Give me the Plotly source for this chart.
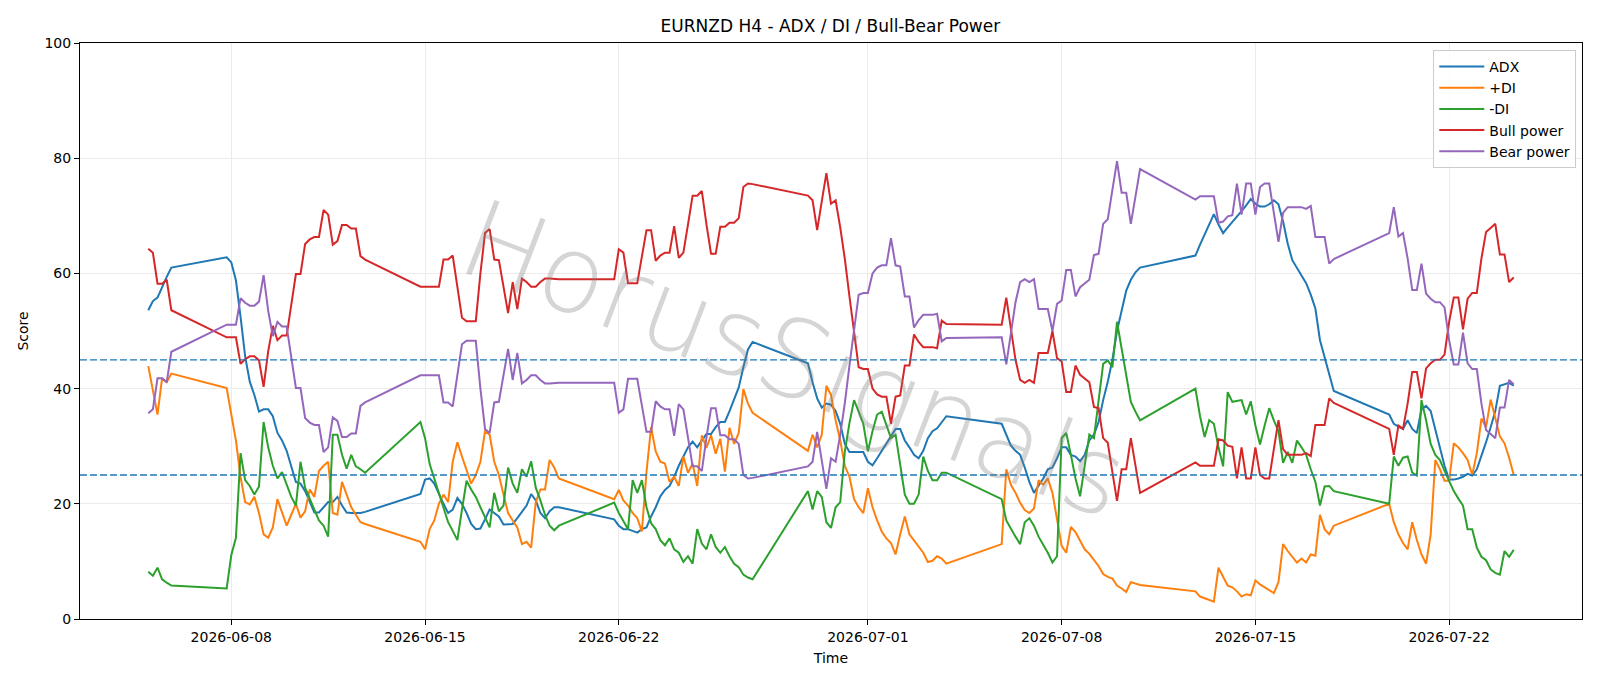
import pandas as pd
import plotly.graph_objects as go

# ---------------- data ----------------
# H4 bars come in runs (market sessions); each run: start time and number of 4h bars
run_starts = ["2026-06-05 00:00", "2026-06-07 20:00", "2026-06-14 20:00", "2026-06-21 20:00",
              "2026-06-28 20:00", "2026-07-05 20:00", "2026-07-12 20:00", "2026-07-19 20:00"]
run_lengths = [6, 31, 31, 31, 31, 31, 31, 28]

adx = [
    53.6, 55.2, 55.8, 57.7, 59.4, 61.0,
    62.8, 61.9, 58.8, 52.5, 45.6, 41.2, 38.9, 36.0, 36.4, 36.4, 35.2, 32.3, 31.0, 29.2, 26.3, 23.8,
    23.5, 22.2, 20.4, 18.5, 18.5, 19.4, 20.3, 20.3, 21.2, 19.7, 18.5, 18.4, 18.4, 18.4, 18.6,
    21.7, 24.2, 24.4, 23.5, 21.6, 20.0, 18.4, 19.0, 21.0, 20.0, 18.4, 16.5, 15.6, 15.7, 17.3, 19.0,
    18.4, 17.8, 16.4, 16.5, 16.5, 17.5, 18.7, 19.7, 21.7, 20.6, 18.4, 17.5, 18.7, 19.4, 19.4,
    17.3, 16.2, 15.6, 15.6, 15.3, 15.0, 15.6, 15.9, 17.8, 19.4, 21.3, 22.4, 23.1, 24.7, 26.6, 28.2,
    29.8, 30.8, 29.8, 31.0, 32.1, 32.1, 33.3, 34.2, 34.2, 36.1, 38.0, 40.2, 43.7, 46.8, 48.1,
    44.4, 41.1, 38.3, 36.7, 37.4, 37.2, 36.1, 33.9, 30.4, 29.0, 29.0, 29.0, 29.0, 27.3, 26.7, 27.9,
    29.2, 30.4, 31.7, 33.0, 33.0, 31.0, 29.8, 28.5, 27.9, 29.2, 31.4, 32.6, 33.1, 34.2, 35.2,
    33.9, 32.0, 30.1, 29.2, 28.5, 26.3, 23.8, 21.9, 23.1, 24.4, 26.0, 26.3, 27.9, 29.8, 29.8, 28.5,
    28.2, 27.4, 28.5, 31.0, 32.0, 34.2, 38.0, 41.2, 45.0, 50.0, 53.5, 57.0, 58.9, 60.2, 61.0,
    63.1, 65.0, 66.8, 68.5, 70.3, 68.5, 67.0, 68.0, 68.9, 69.9, 70.8, 71.8, 72.9, 72.1, 71.6, 71.6,
    72.0, 72.7, 72.0, 69.0, 65.2, 62.3, 61.0, 59.5, 58.3, 56.3, 53.9, 48.4, 45.6, 42.7, 39.6,
    35.5, 33.9, 33.4, 33.0, 34.5, 33.0, 32.3, 36.4, 37.0, 36.1, 32.9, 29.8, 26.6, 24.2, 24.2, 24.4,
    24.7, 25.2, 24.9, 26.0, 28.2, 30.7, 33.3, 36.1, 40.5, 40.8, 41.0, 40.5,
]

plus_di = [
    43.9, 39.9, 35.5, 41.8, 41.1, 42.6,
    40.1, 35.5, 31.0, 24.7, 20.3, 19.9, 21.2, 18.4, 14.7, 14.1, 15.9, 20.8, 18.4, 16.2, 18.1, 20.0,
    17.6, 18.7, 22.5, 21.2, 25.7, 26.6, 27.3, 18.4, 18.1, 23.8, 21.6, 19.4, 18.1, 16.8, 16.5,
    13.4, 12.1, 15.6, 17.1, 20.0, 21.6, 20.3, 27.3, 30.7, 28.2, 25.7, 23.5, 25.0, 27.3, 32.6, 32.0,
    27.3, 25.0, 21.6, 18.4, 17.1, 15.9, 13.0, 13.4, 12.4, 20.3, 22.5, 22.5, 27.6, 26.3, 24.4,
    20.8, 22.4, 20.6, 19.7, 18.4, 17.5, 15.2, 25.5, 33.3, 29.1, 27.3, 27.0, 23.8, 24.7, 23.1, 28.2,
    25.4, 27.0, 23.1, 31.9, 29.7, 31.9, 28.7, 31.3, 25.6, 33.2, 30.4, 32.3, 39.9, 37.4, 35.8,
    29.2, 32.0, 29.8, 32.0, 40.5, 38.9, 34.5, 31.0, 26.6, 24.7, 20.8, 19.4, 18.4, 22.7, 19.4, 17.1,
    15.2, 14.0, 13.2, 11.2, 14.7, 17.8, 14.7, 13.7, 12.7, 11.5, 9.9, 10.1, 10.9, 10.5, 9.6,
    13.0, 26.0, 23.3, 21.9, 20.2, 18.9, 18.4, 19.2, 24.1, 23.3, 24.4, 21.9, 17.5, 12.7, 11.5, 16.0,
    15.1, 13.7, 12.1, 11.3, 10.2, 9.2, 7.8, 7.3, 7.0, 5.8, 5.3, 4.7, 6.4, 6.1, 5.9,
    4.8, 3.9, 3.6, 3.3, 3.0, 8.9, 7.4, 5.8, 5.5, 4.8, 3.9, 4.3, 4.1, 6.7, 6.0, 5.5,
    5.0, 4.5, 6.4, 13.0, 11.8, 10.8, 9.8, 10.5, 9.8, 11.2, 11.0, 18.1, 15.6, 14.7, 16.2,
    20.0, 16.8, 14.7, 13.2, 12.1, 16.8, 13.7, 11.2, 9.6, 14.7, 27.6, 26.0, 24.0, 24.0, 30.5, 29.8,
    28.8, 27.6, 25.0, 28.8, 34.8, 33.3, 38.1, 34.8, 31.7, 30.5, 28.0, 25.0,
]

minus_di = [
    8.2, 7.5, 8.9, 6.9, 6.3, 5.8,
    5.3, 11.1, 14.1, 28.8, 24.1, 23.1, 21.6, 23.0, 34.2, 29.8, 26.6, 24.4, 25.5, 23.5, 21.2, 19.7,
    27.3, 22.8, 20.9, 19.0, 17.1, 16.2, 14.3, 32.0, 32.0, 28.5, 26.1, 28.5, 26.5, 26.0, 25.4,
    34.2, 31.4, 26.9, 24.4, 21.9, 19.4, 16.8, 15.3, 13.7, 19.0, 24.0, 22.5, 21.2, 19.4, 17.5, 15.9,
    21.9, 18.7, 19.7, 26.3, 23.5, 21.9, 26.0, 24.7, 27.4, 22.8, 20.6, 18.1, 16.2, 15.4, 16.2,
    20.2, 18.4, 17.1, 15.6, 24.1, 21.9, 24.1, 19.4, 16.6, 15.6, 13.7, 12.8, 14.0, 12.1, 11.5, 9.9,
    10.9, 9.6, 15.6, 13.1, 12.1, 14.7, 12.5, 11.5, 12.5, 10.9, 9.6, 9.0, 7.7, 7.2, 6.9,
    22.2, 19.0, 22.2, 21.2, 16.8, 15.8, 19.4, 20.3, 29.1, 34.0, 38.0, 36.0, 33.9, 29.1, 32.6, 35.5,
    36.0, 33.7, 31.4, 32.0, 27.0, 21.6, 20.0, 20.0, 21.6, 28.2, 25.7, 24.1, 24.1, 25.4, 25.4,
    20.8, 17.1, 15.6, 14.3, 13.0, 16.8, 17.5, 16.2, 14.3, 13.0, 11.5, 9.8, 10.9, 31.4, 32.3, 28.5,
    24.4, 21.3, 26.3, 32.0, 31.4, 37.4, 44.3, 44.9, 43.7, 51.6, 47.2, 42.7, 37.7, 36.0, 34.5,
    40.0, 35.2, 31.6, 34.5, 33.9, 29.8, 26.5, 39.4, 37.7, 37.8, 38.0, 35.5, 37.8, 33.6, 30.3, 33.6,
    36.6, 34.5, 32.6, 27.1, 29.0, 27.1, 31.0, 29.8, 28.5, 26.0, 23.8, 19.7, 23.0, 23.1, 22.2,
    20.0, 28.2, 26.6, 28.0, 28.2, 25.4, 24.9, 38.0, 34.5, 30.4, 28.5, 27.6, 25.7, 23.8, 22.2, 20.9,
    19.7, 15.6, 15.6, 12.4, 10.8, 10.2, 8.6, 8.0, 7.7, 11.8, 10.8, 12.0,
]

bull_power = [
    64.3, 63.6, 58.2, 58.2, 58.9, 53.6,
    48.9, 48.9, 48.9, 44.3, 45.1, 45.6, 45.6, 44.9, 40.3, 46.5, 50.9, 48.4, 49.2, 49.2, 54.6, 59.9,
    59.9, 65.1, 65.9, 66.3, 66.3, 71.0, 70.2, 65.0, 65.6, 68.4, 68.4, 67.8, 67.8, 63.0, 62.4,
    57.7, 57.7, 57.7, 57.7, 57.7, 62.4, 62.4, 63.1, 57.7, 52.3, 51.7, 51.7, 51.7, 60.0, 67.0, 67.7,
    62.4, 62.3, 57.7, 53.1, 58.5, 53.8, 59.1, 58.5, 57.7, 57.7, 58.5, 59.1, 59.1, 59.0, 59.0,
    59.0, 64.2, 63.6, 58.3, 58.3, 58.3, 62.9, 67.5, 67.5, 62.2, 63.1, 63.6, 63.6, 68.2, 62.7, 63.6,
    68.5, 73.5, 73.5, 74.3, 68.5, 63.4, 63.4, 68.1, 68.1, 68.8, 68.8, 69.6, 75.0, 75.6, 75.5,
    73.5, 72.7, 67.5, 72.5, 77.4, 72.1, 72.7, 68.0, 62.5, 56.0, 49.5, 43.7, 43.4, 43.4, 40.0, 39.0,
    38.6, 38.6, 33.9, 38.6, 38.8, 44.0, 44.0, 49.4, 48.1, 47.2, 47.2, 47.2, 47.0, 51.8, 51.2,
    51.1, 55.8, 50.0, 45.0, 41.5, 41.0, 41.5, 41.0, 46.2, 46.2, 46.2, 50.0, 45.3, 44.7, 39.4, 39.4,
    44.0, 42.4, 41.7, 41.1, 36.8, 36.6, 31.4, 30.6, 25.5, 20.5, 26.0, 26.0, 31.4, 26.5, 21.9,
    27.2, 26.6, 26.6, 26.6, 26.6, 31.2, 31.0, 30.1, 29.9, 24.4, 29.8, 24.4, 24.4, 29.8, 25.0, 24.4,
    24.4, 29.5, 34.5, 29.5, 28.5, 28.5, 28.5, 28.5, 28.8, 28.3, 33.7, 33.7, 33.7, 38.3, 37.5,
    33.0, 28.5, 33.6, 33.0, 37.4, 42.9, 42.9, 38.3, 43.5, 44.4, 45.0, 45.0, 45.9, 51.6, 55.8, 55.8,
    50.3, 55.6, 56.6, 56.6, 62.6, 67.2, 67.9, 68.6, 63.3, 63.3, 58.5, 59.3,
]

bear_power = [
    35.7, 36.4, 41.8, 41.8, 41.1, 46.4,
    51.1, 51.1, 51.1, 55.7, 54.9, 54.4, 54.4, 55.1, 59.7, 53.5, 49.1, 51.6, 50.8, 50.8, 45.4, 40.1,
    40.1, 34.9, 34.1, 33.7, 33.7, 29.0, 29.8, 35.0, 34.4, 31.6, 31.6, 32.2, 32.2, 37.0, 37.6,
    42.3, 42.3, 42.3, 42.3, 42.3, 37.6, 37.6, 36.9, 42.3, 47.7, 48.3, 48.3, 48.3, 40.0, 33.0, 32.3,
    37.6, 37.7, 42.3, 46.9, 41.5, 46.2, 40.9, 41.5, 42.3, 42.3, 41.5, 40.9, 40.9, 41.0, 41.0,
    41.0, 35.8, 36.4, 41.7, 41.7, 41.7, 37.1, 32.5, 32.5, 37.8, 36.9, 36.4, 36.4, 31.8, 37.3, 36.4,
    31.5, 26.5, 26.5, 25.7, 31.5, 36.6, 36.6, 31.9, 31.9, 31.2, 31.2, 30.4, 25.0, 24.4, 24.5,
    26.5, 27.3, 32.5, 27.5, 22.6, 27.9, 27.3, 32.0, 37.5, 44.0, 50.5, 56.3, 56.6, 56.6, 60.0, 61.0,
    61.4, 61.4, 66.1, 61.4, 61.2, 56.0, 56.0, 50.6, 51.9, 52.8, 52.8, 52.8, 53.0, 48.2, 48.8,
    48.9, 44.2, 50.0, 55.0, 58.5, 59.0, 58.5, 59.0, 53.8, 53.8, 53.8, 50.0, 54.7, 55.3, 60.6, 60.6,
    56.0, 57.6, 58.3, 58.9, 63.2, 63.4, 68.6, 69.4, 74.5, 79.5, 74.0, 74.0, 68.6, 73.5, 78.1,
    72.8, 73.4, 73.4, 73.4, 73.4, 68.8, 69.0, 69.9, 70.1, 75.6, 70.2, 75.6, 75.6, 70.2, 75.0, 75.6,
    75.6, 70.5, 65.5, 70.5, 71.5, 71.5, 71.5, 71.5, 71.2, 71.7, 66.3, 66.3, 66.3, 61.7, 62.5,
    67.0, 71.5, 66.4, 67.0, 62.6, 57.1, 57.1, 61.7, 56.5, 55.6, 55.0, 55.0, 54.1, 48.4, 44.2, 44.2,
    49.7, 44.4, 43.4, 43.4, 37.4, 32.8, 32.1, 31.4, 36.7, 36.7, 41.5, 40.7,
]

thresholds = [45, 25]
tick_dates = ["2026-06-08", "2026-06-15", "2026-06-22", "2026-07-01", "2026-07-08", "2026-07-15", "2026-07-22"]
x_range = ["2026-06-02 12:48", "2026-07-26 19:12"]

series = [("ADX", adx, "#1f77b4"), ("+DI", plus_di, "#ff7f0e"), ("-DI", minus_di, "#2ca02c"),
          ("Bull power", bull_power, "#d62728"), ("Bear power", bear_power, "#9467bd")]

# ---------------- figure ----------------
times = []
for start, n in zip(run_starts, run_lengths):
    times += list(pd.date_range(start, periods=n, freq="4h"))

fig = go.Figure()
for name, vals, color in series:
    fig.add_trace(go.Scatter(x=times, y=vals, mode="lines", name=name,
                             line=dict(color=color, width=2)))

for t in thresholds:
    fig.add_shape(type="line", xref="paper", x0=0, x1=1, yref="y", y0=t, y1=t,
                  line=dict(color="#1f77b4", width=1.3, dash="7px,3px"), layer="above")

fig.add_annotation(text="HorusSignals", xref="paper", yref="paper", x=0.476, y=0.45,
                   showarrow=False, textangle=21,
                   font=dict(family="DejaVu Sans", size=108, color="rgba(128,128,128,0.33)", weight=200))

axis_common = dict(showgrid=True, gridcolor="#ebebeb", gridwidth=1, showline=True, mirror=True,
                   linecolor="black", linewidth=1.1, ticks="outside", ticklen=5, tickwidth=1.1,
                   tickcolor="black", zeroline=False, tickfont=dict(size=14, color="black"))

fig.update_layout(
    width=1600, height=686,
    margin=dict(l=80, r=18, t=43, b=67),
    paper_bgcolor="white", plot_bgcolor="white",
    font=dict(family="DejaVu Sans", size=14, color="black"),
    title=dict(text="EURNZD H4 - ADX / DI / Bull-Bear Power", x=0.519, xref="container",
               xanchor="center", y=1 - 26 / 686, yref="container", yanchor="middle",
               font=dict(size=17, color="black")),
    xaxis=dict(type="date", range=x_range, tickvals=tick_dates, ticktext=tick_dates,
               title=dict(text="Time", font=dict(size=14), standoff=9), **axis_common),
    yaxis=dict(range=[0, 100], tick0=0, dtick=20,
               title=dict(text="Score", font=dict(size=14), standoff=12), **axis_common),
    legend=dict(x=0.9962, y=0.988, xanchor="right", yanchor="top",
                bgcolor="rgba(255,255,255,0.8)", bordercolor="#cccccc", borderwidth=1,
                font=dict(size=14), itemwidth=45),
    showlegend=True,
)

fig.write_html("out.html")
